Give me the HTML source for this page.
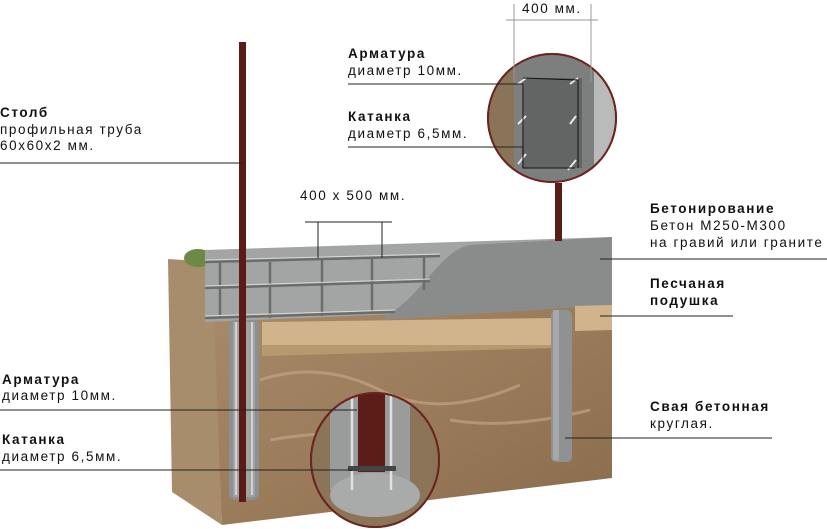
<!DOCTYPE html>
<html><head><meta charset="utf-8"><style>
html,body{margin:0;padding:0;background:#fff;}
svg{display:block}
text{font-family:"Liberation Sans",sans-serif;font-size:13.5px;letter-spacing:1.6px;fill:#111}
.b{font-weight:bold}
</style></head><body>
<svg width="827" height="529" viewBox="0 0 827 529" xmlns="http://www.w3.org/2000/svg">
<defs>
<clipPath id="c1"><circle cx="552" cy="118" r="64"/></clipPath>
<clipPath id="c2"><ellipse cx="375" cy="460" rx="64" ry="67"/></clipPath>
<linearGradient id="soil" x1="0" y1="0" x2="1" y2="1">
<stop offset="0" stop-color="#a88a6a"/><stop offset="0.5" stop-color="#9a7b5a"/><stop offset="1" stop-color="#8a6b4c"/></linearGradient>
</defs>
<!-- left face of block -->
<polygon points="168,259 214,262 222,525 172,492" fill="#a88d6c"/>
<!-- front soil -->
<polygon points="214,320 612,300 612,478 222,525" fill="url(#soil)"/>
<path d="M260,380 q60,-20 120,10 t140,-5 M270,440 q80,-15 150,5 M450,420 q60,10 140,-10" stroke="#c4ab8c" stroke-width="3" fill="none" opacity="0.6"/>
<!-- grass -->
<ellipse cx="198" cy="258" rx="14" ry="9" fill="#6d8a45"/>
<!-- slab -->
<polygon points="205,250 612,237 612,305 205,322" fill="#a3a5a5"/>
<path d="M380,320 C420,300 440,250 470,245 L612,237 L612,305 Z" fill="#8a8c8c"/>
<!-- sand -->
<polygon points="262,322 555,318 555,345 262,353" fill="#d2b48c"/>
<polygon points="262,345 555,345 555,348 262,356" fill="#b8996f"/>
<polygon points="575,306 612,305 612,330 575,331" fill="#d2b48c"/>
<!-- rebar cage -->
<g stroke="#6b6d6d" stroke-width="2.5" fill="none">
<line x1="205" y1="262" x2="440" y2="256"/>
<line x1="205" y1="288" x2="430" y2="281"/>
<line x1="205" y1="318" x2="395" y2="312"/>
<line x1="220" y1="262" x2="220" y2="318"/>
<line x1="270" y1="262" x2="270" y2="318"/>
<line x1="322" y1="260" x2="322" y2="316"/>
<line x1="372" y1="258" x2="372" y2="314"/>
<line x1="424" y1="256" x2="424" y2="290"/>
</g>
<g stroke="#d8dada" stroke-width="1" fill="none">
<line x1="205" y1="260" x2="440" y2="254"/>
<line x1="205" y1="286" x2="430" y2="279"/>
<line x1="205" y1="316" x2="395" y2="310"/>
</g>
<!-- left pile -->
<rect x="229" y="320" width="30" height="180" rx="6" fill="#8d8f90"/>
<rect x="233" y="322" width="22" height="175" fill="#a0a2a3"/>
<line x1="236" y1="322" x2="236" y2="495" stroke="#e2e2e2" stroke-width="1.5"/>
<line x1="252" y1="322" x2="252" y2="495" stroke="#e2e2e2" stroke-width="1.5"/>
<!-- right pile -->
<rect x="551" y="310" width="21" height="152" rx="5" fill="#8f9192"/>
<rect x="553" y="310" width="6" height="150" fill="#a5a7a8"/>
<!-- poles -->
<rect x="239" y="42" width="7" height="460" fill="#5a1c17"/>
<rect x="555" y="183" width="7" height="58" fill="#5a1c17"/>
<!-- top circle detail -->
<circle cx="552" cy="118" r="65" fill="#6c2420"/>
<g clip-path="url(#c1)">
<rect x="480" y="50" width="150" height="140" fill="#8a7458"/>
<rect x="514" y="50" width="80" height="140" fill="#7d7f7f"/>
<rect x="594" y="50" width="30" height="140" fill="#b9bbbb"/>
<rect x="522" y="78" width="60" height="90" fill="#636565"/>
<g stroke="#e6e6e6" stroke-width="2"><line x1="518" y1="84" x2="526" y2="78"/><line x1="570" y1="84" x2="578" y2="78"/><line x1="518" y1="124" x2="526" y2="116"/><line x1="570" y1="124" x2="576" y2="116"/><line x1="518" y1="164" x2="526" y2="154"/><line x1="568" y1="170" x2="576" y2="160"/></g>
<path d="M523,84 L523,168 L575,168 M523,78 L578,80 L578,168" stroke="#111" stroke-width="1" fill="none"/>
</g>
<circle cx="552" cy="118" r="64" fill="none" stroke="#6c2420" stroke-width="2"/>
<!-- bottom circle detail -->
<ellipse cx="375" cy="460" rx="65" ry="68" fill="#6c2420"/>
<g clip-path="url(#c2)">
<rect x="300" y="390" width="150" height="140" fill="#8b7457"/>
<rect x="330" y="390" width="80" height="100" fill="#9a9c9c"/>
<ellipse cx="375" cy="495" rx="45" ry="22" fill="#a9abab"/>
<rect x="358" y="390" width="27" height="82" fill="#5c1c17"/>
<g stroke="#e0e0e0" stroke-width="2.5"><line x1="352" y1="392" x2="352" y2="490"/><line x1="391" y1="392" x2="391" y2="490"/></g>
<rect x="348" y="466" width="48" height="5" fill="#444"/>
</g>
<ellipse cx="375" cy="460" rx="64" ry="67" fill="none" stroke="#6c2420" stroke-width="2"/>
<!-- dimension lines -->
<g stroke="#999" stroke-width="1">
<line x1="514" y1="4" x2="514" y2="82"/><line x1="591" y1="4" x2="591" y2="82"/><line x1="506" y1="20" x2="598" y2="20"/>
</g>
<g stroke="#222" stroke-width="1">
<line x1="305" y1="222" x2="392" y2="222"/><line x1="318" y1="222" x2="318" y2="258"/><line x1="382" y1="222" x2="382" y2="258"/>
<line x1="0" y1="163" x2="243" y2="163"/>
<line x1="348" y1="84" x2="523" y2="84"/>
<line x1="348" y1="147" x2="523" y2="147"/><line x1="523" y1="84" x2="523" y2="147"/>
<line x1="600" y1="259" x2="827" y2="259"/>
<line x1="600" y1="316" x2="733" y2="316"/>
<line x1="565" y1="438" x2="772" y2="438"/>
<line x1="0" y1="410" x2="357" y2="410"/>
<line x1="0" y1="470" x2="352" y2="470"/>
</g>
<!-- labels -->
<text x="522" y="13">400 мм.</text>
<text x="0" y="117" class="b">Столб</text>
<text x="0" y="134">профильная труба</text>
<text x="0" y="150">60x60x2 мм.</text>
<text x="300" y="200">400 x 500 мм.</text>
<text x="348" y="58" class="b">Арматура</text>
<text x="348" y="75">диаметр 10мм.</text>
<text x="348" y="121" class="b">Катанка</text>
<text x="348" y="138">диаметр 6,5мм.</text>
<text x="650" y="213" class="b">Бетонирование</text>
<text x="650" y="230">Бетон М250-М300</text>
<text x="650" y="247">на гравий или граните</text>
<text x="650" y="288" class="b">Песчаная</text>
<text x="650" y="305" class="b">подушка</text>
<text x="650" y="411" class="b">Свая бетонная</text>
<text x="650" y="428">круглая.</text>
<text x="2" y="384" class="b">Арматура</text>
<text x="2" y="400">диаметр 10мм.</text>
<text x="2" y="444" class="b">Катанка</text>
<text x="2" y="461">диаметр 6,5мм.</text>
</svg>
</body></html>
